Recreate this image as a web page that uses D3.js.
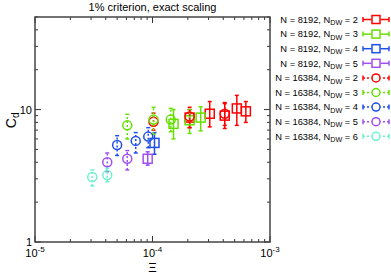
<!DOCTYPE html>
<html>
<head>
<meta charset="utf-8">
<script src="https://cdn.jsdelivr.net/npm/d3@7/dist/d3.min.js"></script>
<style>
  body { margin: 0; background: #fff; }
  text { font-family: "Liberation Sans", Arial, sans-serif; }
</style>
</head>
<body>
<svg id="chart" width="391" height="275"></svg>
<script>
// series: N, N_DW, marker, colour, then x / y / error bar ends
const seriesNames = [
    { n: "8192", dw: "2" }, { n: "8192", dw: "3" }, { n: "8192", dw: "4" }, { n: "8192", dw: "5" },
    { n: "16384", dw: "2" }, { n: "16384", dw: "3" }, { n: "16384", dw: "4" }, { n: "16384", dw: "5" },
    { n: "16384", dw: "6" }
];
const seriesMarkers = ["square", "square", "square", "square", "circle", "circle", "circle", "circle", "circle"];
const seriesColors = ["#ff0000", "#66e000", "#1f4fe8", "#a050f0", "#ff0000", "#66e000", "#1f4fe8", "#a050f0", "#70f0d0"];

const xValues = [
    [2.07e-4, 3.07e-4, 4.12e-4, 5.22e-4, 6.23e-4],
    [1.51e-4, 2.07e-4, 2.57e-4],
    [1.04e-4],
    [9.1e-5],
    [1.02e-4, 2.07e-4, 4.12e-4],
    [6.1e-5, 1.02e-4, 1.43e-4],
    [5.0e-5, 7.2e-5, 9.2e-5],
    [4.12e-5, 6.1e-5],
    [3.07e-5, 4.12e-5]
];
const yValues = [
    [8.7, 9.3, 9.0, 10.2, 9.7],
    [7.8, 8.3, 8.7],
    [5.6],
    [4.25],
    [8.1, 8.85, 9.3],
    [7.6, 8.4, 8.4],
    [5.4, 5.8, 6.25],
    [4.0, 4.25],
    [3.1, 3.2]
];
const yLow = [
    [7.3, 7.4, 7.2, 7.6, 8.0],
    [6.0, 6.6, 6.9],
    [4.6],
    [3.8],
    [7.0, 7.3, 7.6],
    [6.0, 6.5, 6.8],
    [4.5, 4.7, 5.15],
    [3.4, 3.5],
    [2.65, 2.85]
];
const yHigh = [
    [10.0, 11.5, 11.3, 12.8, 11.5],
    [10.0, 10.0, 10.5],
    [6.7],
    [4.8],
    [9.4, 10.4, 11.1],
    [9.2, 10.4, 10.2],
    [6.35, 6.7, 7.3],
    [4.7, 4.9],
    [3.5, 3.6]
];

const xDomain = [1e-5, 1e-3];
const yDomain = [1, 50];
const xTickLabels = ["-5", "-4", "-3"];
const yTickLabels = ["1", "10"];

const svg = d3.select("#chart");
const margin = { left: 35, right: 121, top: 17, bottom: 33 };
const width = 391 - margin.left - margin.right;
const height = 275 - margin.top - margin.bottom;

const x = d3.scaleLog().domain(xDomain).range([0, width]);
const y = d3.scaleLog().domain(yDomain).range([height, 0]);

const g = svg.append("g").attr("transform", `translate(${margin.left},${margin.top})`);

// minor / major ticks on a log axis
function logTicks(lo, hi) {
    let out = [];
    for (let e = Math.floor(Math.log10(lo)); e <= Math.ceil(Math.log10(hi)); e++) {
        for (let m = 1; m < 10; m++) {
            let v = m * Math.pow(10, e);
            if (v >= lo * 0.9999 && v <= hi * 1.0001) out.push({ v: v, major: m === 1 });
        }
    }
    return out;
}

const tickColor = "#333";
logTicks(xDomain[0], xDomain[1]).forEach(t => {
    let len = t.major ? 6 : 3;
    let px = x(t.v);
    g.append("line").attr("x1", px).attr("x2", px).attr("y1", height).attr("y2", height - len)
        .attr("stroke", tickColor).attr("stroke-width", 1);
    g.append("line").attr("x1", px).attr("x2", px).attr("y1", 0).attr("y2", len)
        .attr("stroke", tickColor).attr("stroke-width", 1);
});
logTicks(yDomain[0], yDomain[1]).forEach(t => {
    let len = t.major ? 6 : 3;
    let py = y(t.v);
    g.append("line").attr("x1", 0).attr("x2", len).attr("y1", py).attr("y2", py)
        .attr("stroke", tickColor).attr("stroke-width", 1);
    g.append("line").attr("x1", width).attr("x2", width - len).attr("y1", py).attr("y2", py)
        .attr("stroke", tickColor).attr("stroke-width", 1);
});

// frame
g.append("rect").attr("width", width).attr("height", height)
    .attr("fill", "none").attr("stroke", "#444").attr("stroke-width", 1.5);

// tick labels
xTickLabels.forEach((lab, i) => {
    let t = g.append("text")
        .attr("x", x(Math.pow(10, +lab)))
        .attr("y", height + 15)
        .attr("text-anchor", "middle")
        .attr("font-size", 11);
    t.append("tspan").text("10");
    t.append("tspan").attr("dy", -5).attr("font-size", 8).text(lab);
});
yTickLabels.forEach(lab => {
    g.append("text")
        .attr("x", -3)
        .attr("y", y(+lab) + 4)
        .attr("text-anchor", "end")
        .attr("font-size", 11)
        .text(lab);
});

// axis titles
svg.append("text")
    .attr("x", margin.left + width / 2)
    .attr("y", 11)
    .attr("text-anchor", "middle")
    .attr("font-size", 11)
    .text("1% criterion, exact scaling");

svg.append("text")
    .attr("x", margin.left + x(1e-4))
    .attr("y", 272)
    .attr("text-anchor", "middle")
    .attr("font-size", 13)
    .text("Ξ");

let yl = svg.append("text")
    .attr("transform", `translate(16,${margin.top + y(8.3)}) rotate(-90)`)
    .attr("text-anchor", "middle")
    .attr("font-size", 14);
yl.append("tspan").text("C");
yl.append("tspan").attr("dy", 3).attr("font-size", 10).text("d");

// markers
function drawMarker(sel, type, cx, cy, color, size) {
    let h = size / 2;
    if (type === "square") {
        sel.append("rect").attr("x", cx - h).attr("y", cy - h)
            .attr("width", size).attr("height", size)
            .attr("fill", "none").attr("stroke", color).attr("stroke-width", 1.5);
    } else {
        sel.append("circle").attr("cx", cx).attr("cy", cy).attr("r", h)
            .attr("fill", "none").attr("stroke", color).attr("stroke-width", 1.5);
    }
}

const plot = g.append("g");
seriesNames.forEach((s, i) => {
    let color = seriesColors[i];
    let dash = seriesMarkers[i] === "circle" ? "2,2" : null;
    xValues[i].forEach((xv, j) => {
        let px = x(xv);
        plot.append("line")
            .attr("x1", px).attr("x2", px)
            .attr("y1", y(yLow[i][j])).attr("y2", y(yHigh[i][j]))
            .attr("stroke", color).attr("stroke-width", 1.5)
            .attr("stroke-dasharray", dash);
        [yLow[i][j], yHigh[i][j]].forEach(v => {
            plot.append("line")
                .attr("x1", px - 2).attr("x2", px + 2)
                .attr("y1", y(v)).attr("y2", y(v))
                .attr("stroke", color).attr("stroke-width", 1.5);
        });
        drawMarker(plot, seriesMarkers[i], px, y(yValues[i][j]), color, 9);
    });
});

// legend
const legend = svg.append("g");
const rowH = 14.6;
seriesNames.forEach((s, i) => {
    let ly = 19.5 + i * rowH;
    let color = seriesColors[i];
    let t = legend.append("text")
        .attr("x", 358).attr("y", ly + 3.2)
        .attr("text-anchor", "end")
        .attr("font-size", 9.3);
    t.append("tspan").text(`N = ${s.n}, N`);
    t.append("tspan").attr("dy", 2.5).attr("font-size", 7.2).text("DW");
    t.append("tspan").attr("dy", -2.5).text(` = ${s.dw}`);

    let dash = seriesMarkers[i] === "circle" ? "2,2" : null;
    legend.append("line").attr("x1", 363).attr("x2", 389).attr("y1", ly).attr("y2", ly)
        .attr("stroke", color).attr("stroke-width", 1.5).attr("stroke-dasharray", dash);
    [363, 389].forEach(ex => {
        legend.append("line").attr("x1", ex).attr("x2", ex).attr("y1", ly - 2.5).attr("y2", ly + 2.5)
            .attr("stroke", color).attr("stroke-width", 1.5);
    });
    legend.append("rect").attr("x", 371.5).attr("y", ly - 4.5).attr("width", 9).attr("height", 9)
        .attr("fill", "#fff");
    drawMarker(legend, seriesMarkers[i], 376, ly, color, 8);
});
</script>
</body>
</html>
